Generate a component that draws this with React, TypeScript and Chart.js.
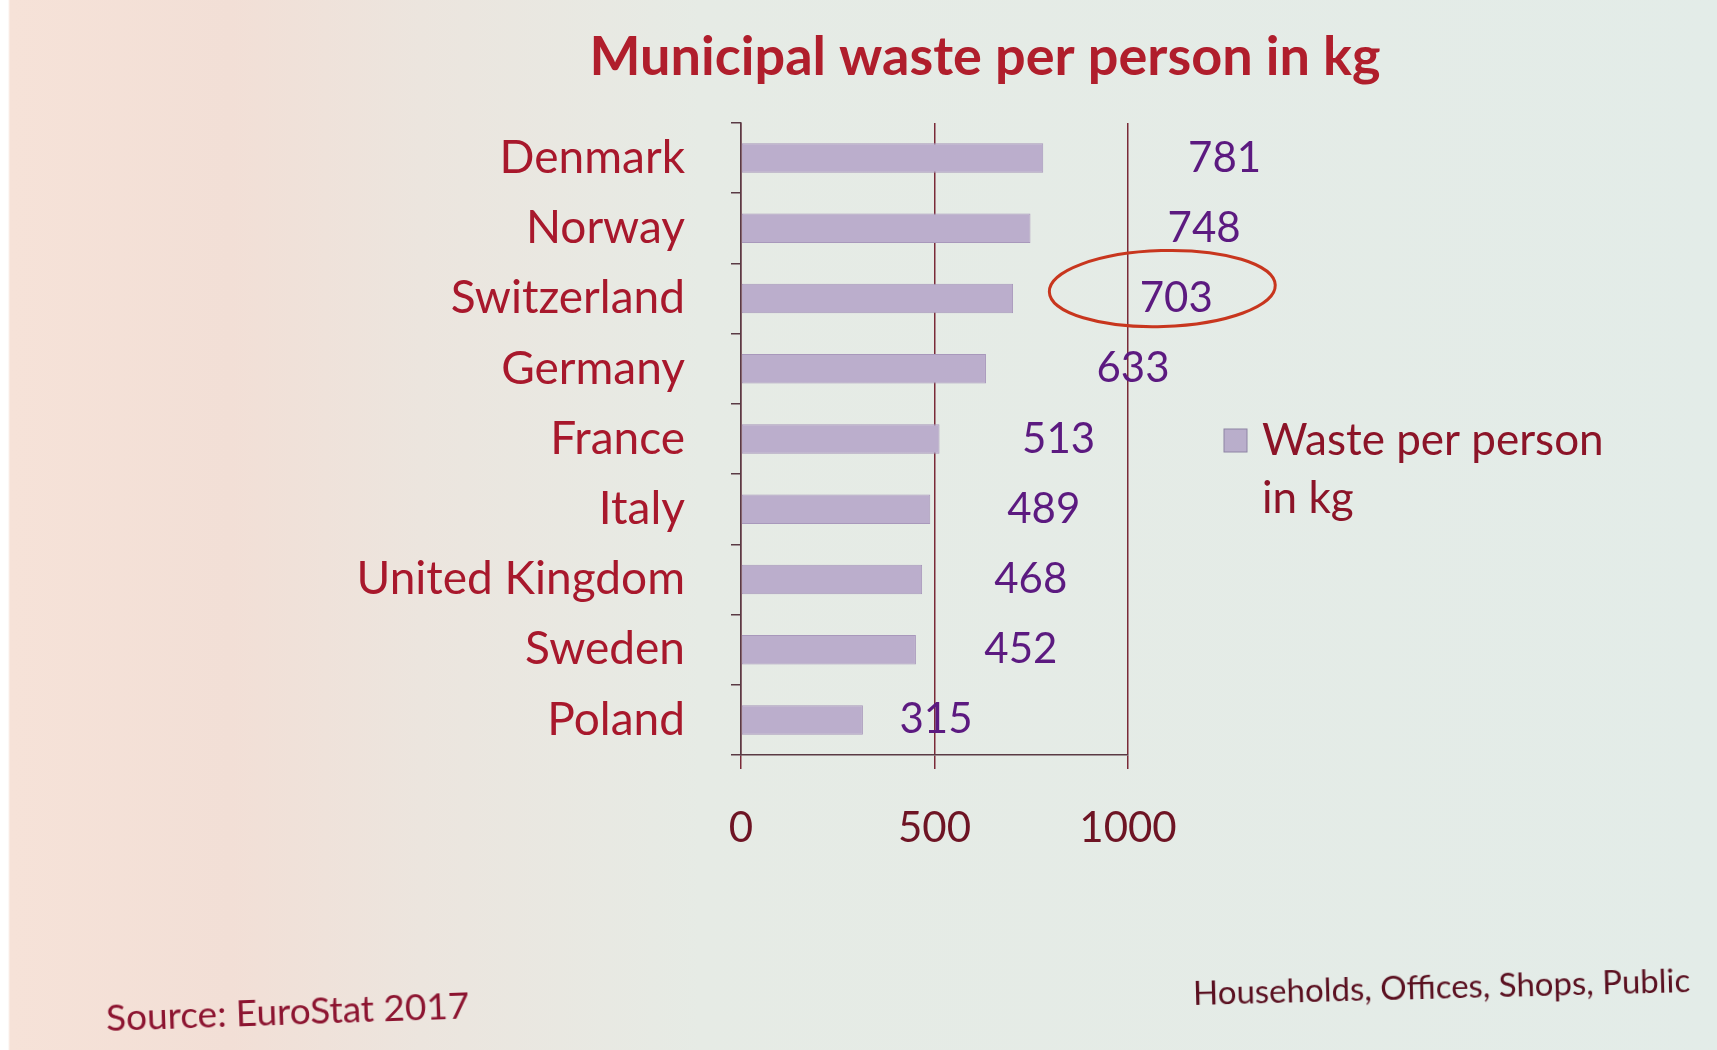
import React, { useEffect, useRef } from "react";
import { Chart, registerables } from "chart.js";

Chart.register(...registerables);

const countries = ["Denmark", "Norway", "Switzerland", "Germany", "France", "Italy", "United Kingdom", "Sweden", "Poland"];
const wastePerPerson = [781, 748, 703, 633, 513, 489, 468, 452, 315];
const xTicks = [0, 500, 1000];
const seriesName = "Waste per person in kg";
const legendLines = ["Waste per person", "in kg"];
const titleText = "Municipal waste per person in kg";
const sourceText = "Source: EuroStat 2017";
const noteText = "Households, Offices, Shops, Public";
const highlighted = "Switzerland";

const FONT = "Lato, 'Open Sans', sans-serif";
const LABEL_SHIFT = 1.6;

export default function App() {
  const ref = useRef<HTMLCanvasElement>(null);
  useEffect(() => {
    document.body.style.margin = "0";
    const ctx = ref.current!;
    const labelsPlugin = {
      id: "valueLabels",
      afterDatasetsDraw(chart: any) {
        const c = chart.ctx;
        const meta = chart.getDatasetMeta(0);
        const xs = chart.scales.x;
        c.save();
        // title
        c.font = `bold 54px ${FONT}`;
        c.fillStyle = "#b01e2c";
        c.textAlign = "center";
        c.textBaseline = "middle";
        c.fillText(titleText, 985, 58);
        // value labels
        c.font = `42px ${FONT}`;
        c.fillStyle = "#5c1a80";
        meta.data.forEach((bar: any, i: number) => {
          const v = wastePerPerson[i];
          const x = xs.getPixelForValue(v * LABEL_SHIFT);
          c.fillText(String(v), x, bar.y);
          if (countries[i] === highlighted) {
            c.strokeStyle = "#c8361e";
            c.lineWidth = 3;
            c.beginPath();
            c.ellipse(x - 14, bar.y - 10, 113, 38, -0.03, 0, Math.PI * 2);
            c.stroke();
          }
        });
        // legend
        const lx = chart.chartArea.right + 96;
        const ly = chart.chartArea.top + 318;
        c.fillStyle = "#b9aecb";
        c.strokeStyle = "#8e84a4";
        c.lineWidth = 1;
        c.fillRect(lx, ly - 12, 23, 23);
        c.strokeRect(lx, ly - 12, 23, 23);
        c.font = `44px ${FONT}`;
        c.fillStyle = "#8c1428";
        c.textAlign = "left";
        legendLines.forEach((t, k) => c.fillText(t, lx + 38, ly + k * 58));
        c.restore();
      },
    };
    const chart = new Chart(ctx, {
      type: "bar",
      data: {
        labels: countries,
        datasets: [
          {
            label: seriesName,
            data: wastePerPerson,
            backgroundColor: "#bbaecc",
            borderColor: "#a898bb",
            borderWidth: 1,
            borderSkipped: false,
            barPercentage: 0.42,
            categoryPercentage: 1,
          },
        ],
      },
      options: {
        indexAxis: "y",
        animation: false,
        responsive: false,
        layout: { padding: { left: 0, right: 589, top: 123, bottom: 0 } },
        plugins: {
          legend: { display: false },
          tooltip: { enabled: false },
          title: { display: false },
        },
        scales: {
          x: {
            min: 0,
            max: 1000,
            afterBuildTicks(s: any) {
              s.ticks = xTicks.map((v) => ({ value: v }));
            },
            afterFit(s: any) {
              s.height = 295;
            },
            ticks: {
              color: "#6e1424",
              font: { family: FONT, size: 42 },
              padding: 34,
              callback: (v: any) => String(v),
            },
            grid: { color: "#7a2a38", lineWidth: 1.5, tickLength: 14, drawOnChartArea: true },
            border: { color: "#5a3a44", width: 1.5 },
          },
          y: {
            afterFit(s: any) {
              s.width = 741;
            },
            ticks: { color: "#a8182c", font: { family: FONT, size: 46 }, padding: 46 },
            grid: { offset: true, drawOnChartArea: false, tickLength: 10, color: "#5a3a44", lineWidth: 1.5 },
            border: { color: "#5a3a44", width: 1.5 },
          },
        },
      },
      plugins: [labelsPlugin],
    });
    return () => chart.destroy();
  }, []);
  return (
    <div
      style={{
        position: "relative",
        width: 1717,
        height: 1050,
        overflow: "hidden",
        background:
          "linear-gradient(90deg, #ffffff 0px, #ffffff 8px, #f6e2d8 10px, #f2dfd6 230px, #ece5de 420px, #e6ebe5 700px, #e3ece8 1717px)",
      }}
    >
      <canvas ref={ref} width={1717} height={1050} style={{ position: "absolute", left: 0, top: 0 }} />
      <div
        style={{
          position: "absolute",
          left: 106,
          top: 994,
          fontFamily: FONT,
          fontSize: 37,
          color: "#8c1430",
          transform: "rotate(-2deg)",
          transformOrigin: "left center",
          whiteSpace: "nowrap",
        }}
      >
        {sourceText}
      </div>
      <div
        style={{
          position: "absolute",
          left: 1193,
          top: 972,
          fontFamily: FONT,
          fontSize: 33,
          color: "#5a1020",
          transform: "rotate(-1.5deg)",
          transformOrigin: "left center",
          whiteSpace: "nowrap",
        }}
      >
        {noteText}
      </div>
    </div>
  );
}
